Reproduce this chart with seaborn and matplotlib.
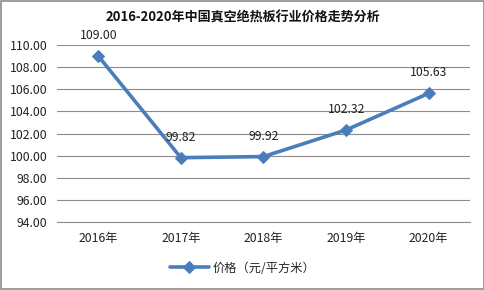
import matplotlib
matplotlib.use("Agg")
import matplotlib.pyplot as plt
import seaborn as sns
import pandas as pd
from matplotlib.patches import Rectangle

years = ["2016年", "2017年", "2018年", "2019年", "2020年"]
prices = [109.00, 99.82, 99.92, 102.32, 105.63]
series_name = "价格（元/平方米）"
title = "2016-2020年中国真空绝热板行业价格走势分析"
yticks = [94, 96, 98, 100, 102, 104, 106, 108, 110]

sns.set_theme(style="white")
plt.rcParams['font.family'] = ['Noto Sans CJK SC', 'DejaVu Sans']

df = pd.DataFrame({"year": years, "price": prices, "series": series_name})

fig = plt.figure(figsize=(4.85, 2.9), dpi=100)
ax = fig.add_axes([0.1175, 0.234, 0.8515, 0.611])

color = "#4A7EBB"
sns.lineplot(data=df, x="year", y="price", hue="series", palette=[color],
             marker="D", markersize=6, linewidth=2.6, markeredgecolor=color,
             sort=False, ax=ax)

ax.set_ylim(94, 110)
ax.set_xlim(-0.5, 4.5)
ax.set_yticks(yticks)
ax.set_yticklabels([f"{v:.2f}" for v in yticks], fontsize=8.8, color="#222222")
ax.tick_params(axis='x', labelsize=8.8, colors="#222222", length=0, pad=7)
ax.tick_params(axis='y', length=0, pad=7)
ax.set_xlabel("")
ax.set_ylabel("")
ax.grid(axis='y', color="#8C8C8C", linewidth=0.8)
ax.set_axisbelow(True)
for s in ["top", "right", "left"]:
    ax.spines[s].set_visible(False)
ax.spines["bottom"].set_color("#8C8C8C")
ax.spines["bottom"].set_linewidth(0.8)

for i, v in enumerate(prices):
    ax.annotate(f"{v:.2f}", (i, v), xytext=(0, 10), textcoords="offset points",
                ha="center", va="bottom", fontsize=8.8, color="#222222")

ax.legend_.remove()
handles, labels = ax.get_legend_handles_labels()
fig.legend(handles, labels, loc="center", bbox_to_anchor=(0.5, 0.075),
           frameon=False, fontsize=8.8, handlelength=3.2, handletextpad=0.3)

fig.text(0.5, 0.94, title, ha="center", va="center", fontsize=9.4, fontweight="bold",
         color="#111111")

fig.patches.append(Rectangle((0.002, 0.003), 0.995, 0.994, transform=fig.transFigure,
                             fill=False, edgecolor="#8C8C8C", linewidth=1.2))

fig.savefig("out.png", dpi=100)
